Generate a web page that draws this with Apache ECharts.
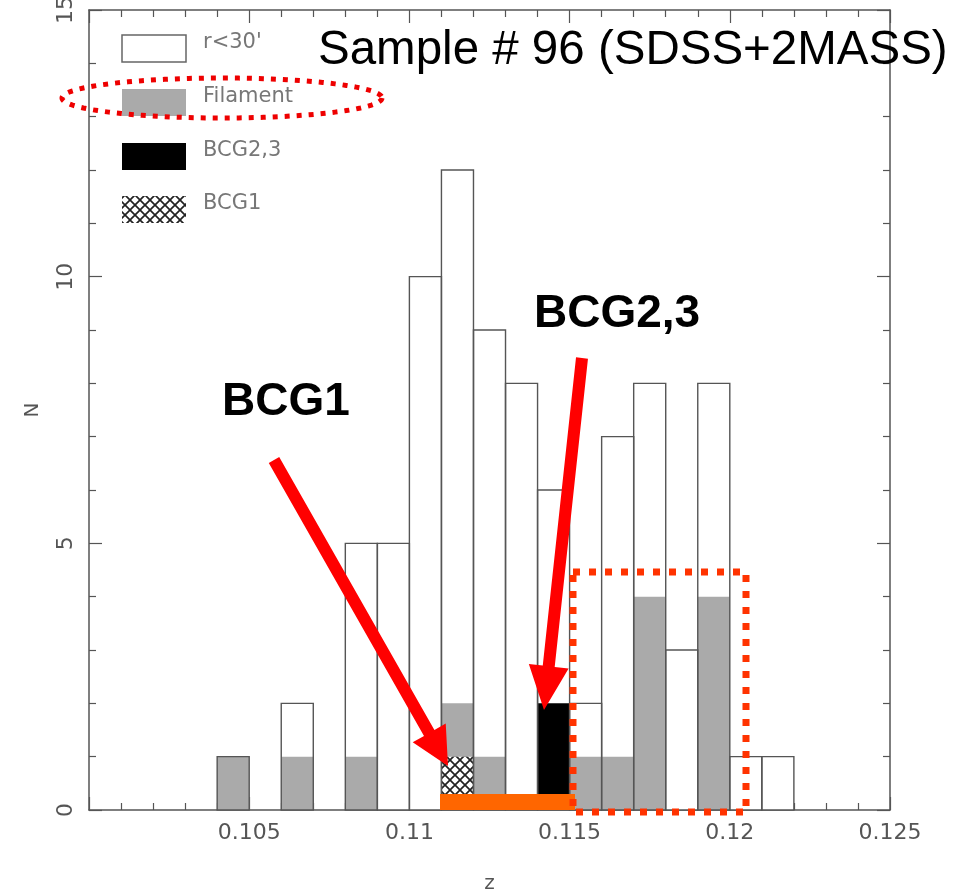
<!DOCTYPE html>
<html>
<head>
<meta charset="utf-8">
<script src="https://cdn.jsdelivr.net/npm/echarts@6/dist/echarts.min.js"></script>
<style>
html,body{margin:0;padding:0;background:#fff;}
#chart{width:954px;height:892px;}
</style>
</head>
<body>
<div id="chart"></div>
<script>
// ---- data ----
const binWidth = 0.001;
const binStart = [0.104,0.105,0.106,0.107,0.108,0.109,0.110,0.111,0.112,0.113,0.114,0.115,0.116,0.117,0.118,0.119,0.120,0.121];
const countTotal    = [1,0,2,0,5,5,10,12,9,8,6,2,7,8,3,8,1,1];
const countFilament = [1,0,1,0,1,0,0,2,1,0,0,1,1,4,0,4,0,0];
const countBCG23    = [0,0,0,0,0,0,0,0,0,0,2,0,0,0,0,0,0,0];
const countBCG1     = [0,0,0,0,0,0,0,1,0,0,0,0,0,0,0,0,0,0];
const xTickValues = [0.105,0.11,0.115,0.12,0.125];
const xTickLabels = ['0.105','0.11','0.115','0.12','0.125'];
const yTickValues = [0,5,10,15];
const yTickLabels = ['0','5','10','15'];
const legendNames = ["r<30'", 'Filament', 'BCG2,3', 'BCG1'];
const titleText = 'Sample # 96 (SDSS+2MASS)';

// ---- hatch pattern ----
const hatch = document.createElement('canvas');
hatch.width = 10; hatch.height = 10;
(function(){
  const c = hatch.getContext('2d');
  c.fillStyle = '#fff'; c.fillRect(0,0,10,10);
  c.strokeStyle = '#222'; c.lineWidth = 1.7;
  c.beginPath();
  c.moveTo(-2,-2); c.lineTo(12,12);
  c.moveTo(-2,12); c.lineTo(12,-2);
  c.stroke();
})();
const hatchFill = {image: hatch, repeat: 'repeat'};

function toData(arr){ return binStart.map((s,i)=>[s, s+binWidth, arr[i]]); }
function barRenderer(style){
  return function(params, api){
    const x0 = api.value(0), x1 = api.value(1), y = api.value(2);
    if (!y) return;
    const p0 = api.coord([x0, y]), p1 = api.coord([x1, 0]);
    return {type:'rect', shape:{x:p0[0], y:p0[1], width:p1[0]-p0[0], height:p1[1]-p0[1]}, style: style};
  };
}
function customSeries(name, arr, style, z){
  return {type:'custom', name:name, data:toData(arr), dimensions:['x0','x1','n'],
    encode:{x:[0,1], y:2}, renderItem: barRenderer(style), z:z, silent:true, animation:false};
}

const axisColor = '#555';
const lbl = {color:'#555', fontSize:22, fontFamily:'DejaVu Sans'};
function xAxisCfg(pos, showLabel){
  return {type:'value', position:pos, min:0.1, max:0.125, interval:0.005,
    axisLine:{show:true, onZero:false, lineStyle:{color:axisColor, width:1.5}},
    axisTick:{show:true, inside:true, length:13, lineStyle:{color:axisColor, width:1.2}},
    minorTick:{show:true, splitNumber:5, length:7, lineStyle:{color:axisColor, width:1.2}},
    splitLine:{show:false},
    axisLabel: showLabel ? Object.assign({show:true, margin:12, showMinLabel:false,
      formatter: v => { const i = xTickValues.findIndex(t => Math.abs(t-v) < 1e-9); return i >= 0 ? xTickLabels[i] : ''; }}, lbl) : {show:false},
    name: showLabel ? 'z' : '', nameLocation:'middle', nameGap:64,
    nameTextStyle:{color:'#555', fontSize:20, fontFamily:'DejaVu Sans'}};
}
function yAxisCfg(pos, showLabel){
  return {type:'value', position:pos, min:0, max:15, interval:5,
    axisLine:{show:true, onZero:false, lineStyle:{color:axisColor, width:1.5}},
    axisTick:{show:true, inside:true, length:13, lineStyle:{color:axisColor, width:1.2}},
    minorTick:{show:true, splitNumber:5, length:7, lineStyle:{color:axisColor, width:1.2}},
    splitLine:{show:false},
    axisLabel: showLabel ? Object.assign({show:true, margin:12, rotate:90,
      formatter: v => { const i = yTickValues.indexOf(v); return i >= 0 ? yTickLabels[i] : ''; }}, lbl) : {show:false},
    name: showLabel ? 'N' : '', nameLocation:'middle', nameGap:46, nameRotate:90,
    nameTextStyle:{color:'#555', fontSize:20, fontFamily:'DejaVu Sans'}};
}

const chart = echarts.init(document.getElementById('chart'), null, {renderer:'canvas'});
const option = {
  animation:false,
  backgroundColor:'#fff',
  grid:{left:89, right:64, top:10, bottom:82, containLabel:false, outerBoundsMode:'none'},
  xAxis:[xAxisCfg('bottom', true), xAxisCfg('top', false)],
  yAxis:[yAxisCfg('left', true), yAxisCfg('right', false)],
  series:[
    customSeries(legendNames[0], countTotal, {fill:'#fff'}, 1),
    customSeries(legendNames[1], countFilament, {fill:'#aaaaaa'}, 2),
    customSeries(legendNames[2], countBCG23, {fill:'#000'}, 3),
    customSeries(legendNames[3], countBCG1, {fill:hatchFill}, 4),
    customSeries('outline', countTotal, {fill:null, stroke:'#555', lineWidth:1.4}, 5)
  ]
};
chart.setOption(option);

// ---- decorations ----
function arrowPoly(tail, tip, shaftW, headLen, headW){
  const dx = tip[0]-tail[0], dy = tip[1]-tail[1];
  const L = Math.sqrt(dx*dx+dy*dy), ux = dx/L, uy = dy/L, nx = -uy, ny = ux;
  const bx = tip[0]-ux*headLen, by = tip[1]-uy*headLen;
  const s = shaftW/2, h = headW/2;
  return [[tail[0]+nx*s, tail[1]+ny*s],[bx+nx*s, by+ny*s],[bx+nx*h, by+ny*h],tip,
          [bx-nx*h, by-ny*h],[bx-nx*s, by-ny*s],[tail[0]-nx*s, tail[1]-ny*s]];
}
function ellipsePts(cx, cy, rx, ry){
  const pts = [];
  for (let k = 0; k < 120; k++){ const a = k/120*Math.PI*2; pts.push([cx+rx*Math.cos(a), cy+ry*Math.sin(a)]); }
  return pts;
}
const legendY = [35, 89, 143, 196];
const legendStyles = [{fill:'#fff', stroke:'#666', lineWidth:1.5}, {fill:'#aaaaaa'}, {fill:'#000'}, {fill:hatchFill}];
const g = [];
legendNames.forEach((n,i)=>{
  g.push({type:'rect', z:100, shape:{x:122, y:legendY[i], width:64, height:27}, style:legendStyles[i]});
  g.push({type:'text', z:100, x:203, y:legendY[i]+8, style:{text:n, fill:'#777', fontSize:21, fontFamily:'DejaVu Sans', verticalAlign:'middle'}});
});
g.push({type:'text', z:100, x:318, y:51, style:{text:titleText, fill:'#000', fontSize:47.5, fontFamily:'Liberation Sans', verticalAlign:'middle'}});
g.push({type:'text', z:100, x:222, y:402, style:{text:'BCG1', fill:'#000', fontSize:46, fontWeight:'bold', fontFamily:'Liberation Sans', verticalAlign:'middle'}});
g.push({type:'text', z:100, x:534, y:314, style:{text:'BCG2,3', fill:'#000', fontSize:46, fontWeight:'bold', fontFamily:'Liberation Sans', verticalAlign:'middle'}});
g.push({type:'polygon', z:101, shape:{points:arrowPoly([274,460],[448,766],12,38,38)}, style:{fill:'#ff0000'}});
g.push({type:'polygon', z:101, shape:{points:arrowPoly([582,358],[544,710],12,44,40)}, style:{fill:'#ff0000'}});
g.push({type:'rect', z:100, shape:{x:440, y:794, width:135, height:16}, style:{fill:'#ff6600'}});
g.push({type:'rect', z:102, shape:{x:573, y:572, width:173, height:240}, style:{fill:null, stroke:'#ff3300', lineWidth:7, lineDash:[7,9]}});
g.push({type:'polygon', z:102, shape:{points:ellipsePts(222,98,160,20)}, style:{fill:null, stroke:'#ee0000', lineWidth:5, lineDash:[5,7]}});
chart.setOption({graphic:{elements:g}});
</script>
</body>
</html>
